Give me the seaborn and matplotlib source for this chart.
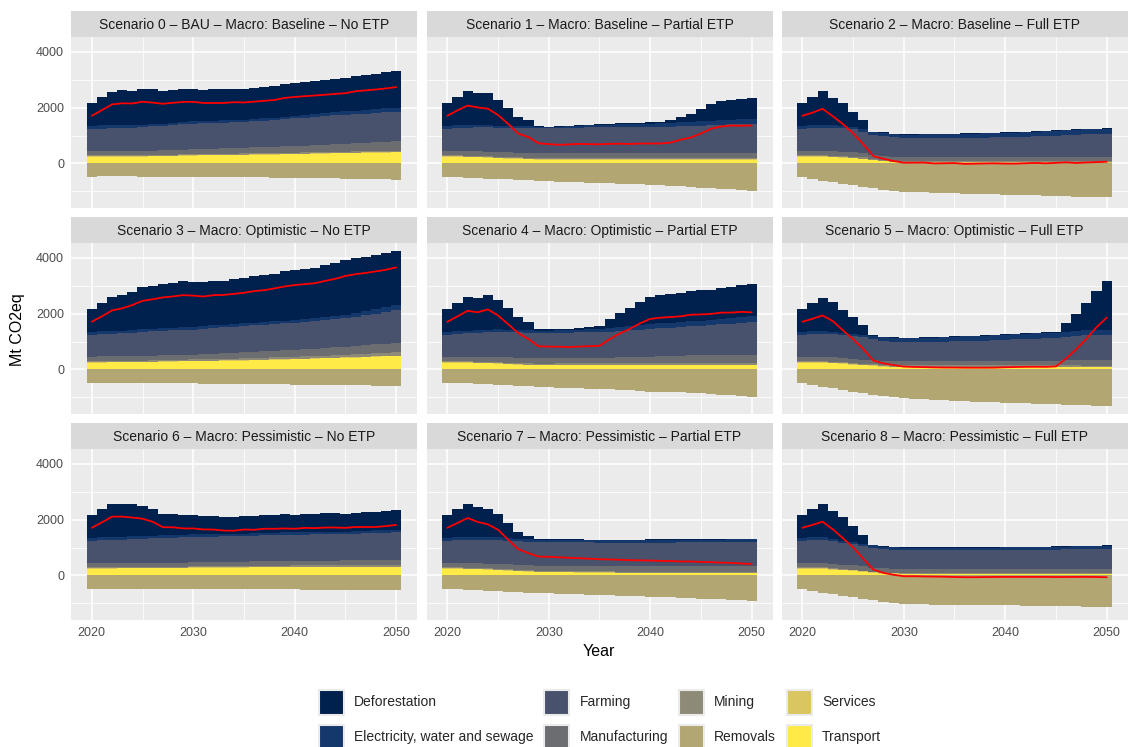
import matplotlib
matplotlib.use("Agg")
import matplotlib.pyplot as plt
import seaborn as sns
import pandas as pd
from matplotlib.patches import Patch
from matplotlib.ticker import FixedLocator

# ---------------------------------------------------------------- data
years = list(range(2020, 2051))

categories = ["Deforestation", "Electricity, water and sewage", "Farming",
              "Manufacturing", "Mining", "Removals", "Services", "Transport"]
cat_colors = ["#00204D", "#14386C", "#48526C", "#6C6D71",
              "#8D8A78", "#B2A672", "#D9C660", "#FFEA46"]

scenario_titles = [
    "Scenario 0 \u2013 BAU \u2013 Macro: Baseline \u2013 No ETP",
    "Scenario 1 \u2013 Macro: Baseline \u2013 Partial ETP",
    "Scenario 2 \u2013 Macro: Baseline \u2013 Full ETP",
    "Scenario 3 \u2013 Macro: Optimistic \u2013 No ETP",
    "Scenario 4 \u2013 Macro: Optimistic \u2013 Partial ETP",
    "Scenario 5 \u2013 Macro: Optimistic \u2013 Full ETP",
    "Scenario 6 \u2013 Macro: Pessimistic \u2013 No ETP",
    "Scenario 7 \u2013 Macro: Pessimistic \u2013 Partial ETP",
    "Scenario 8 \u2013 Macro: Pessimistic \u2013 Full ETP",
]

services_all = [15, 15, 15, 15, 15, 15, 15, 15, 15, 15,
                15, 15, 15, 15, 15, 15, 15, 15, 15, 15,
                15, 15, 15, 15, 15, 15, 15, 15, 15, 15, 15]

# Scenario 0
deforestation_s0 = [830, 1010, 1210, 1240, 1230, 1290, 1240, 1180, 1190, 1200,
                    1180, 1130, 1120, 1110, 1130, 1110, 1120, 1130, 1140, 1190,
                    1200, 1200, 1200, 1200, 1200, 1200, 1250, 1260, 1270, 1290, 1320]
electricity_s0 = [110, 110, 108, 105, 98, 90, 85, 80, 78, 76,
                  75, 76, 77, 78, 79, 80, 81, 82, 83, 84,
                  85, 90, 95, 100, 110, 119, 124, 129, 134, 139, 143]
farming_s0 = [785, 795, 805, 820, 835, 850, 865, 880, 900, 915,
              930, 930, 930, 930, 930, 930, 940, 950, 960, 975,
              990, 1000, 1010, 1020, 1030, 1035, 1040, 1045, 1050, 1055, 1060]
manufacturing_s0 = [165, 163, 160, 158, 156, 155, 157, 160, 162, 165,
                    167, 174, 181, 188, 195, 202, 209, 216, 223, 230,
                    238, 248, 258, 268, 277, 286, 295, 305, 315, 325, 333]
mining_s0 = [36, 36, 36, 35, 35, 35, 35, 36, 37, 37,
             38, 38, 38, 39, 39, 40, 40, 41, 41, 42,
             42, 43, 43, 44, 44, 45, 45, 46, 47, 47, 48]
transport_s0 = [245, 245, 245, 247, 248, 250, 256, 262, 268, 275,
                283, 287, 292, 296, 300, 305, 310, 315, 320, 325,
                330, 337, 344, 351, 358, 365, 372, 379, 386, 393, 400]
removals_s0 = [-476, -460, -460, -462, -465, -470, -470, -472, -474, -476,
               -478, -480, -483, -486, -490, -494, -498, -502, -506, -510,
               -515, -520, -526, -532, -538, -544, -550, -557, -564, -572, -580]

# Scenario 1
deforestation_s1 = [830, 1010, 1210, 1140, 1140, 930, 640, 320, 210, 20,
                    15, 15, 15, 20, 20, 25, 30, 35, 40, 45,
                    50, 60, 95, 180, 275, 430, 590, 680, 720, 735, 755]
electricity_s1 = [110, 110, 95, 88, 80, 72, 70, 65, 60, 55,
                  48, 50, 55, 60, 65, 71, 80, 90, 100, 110,
                  119, 125, 135, 145, 155, 167, 167, 167, 167, 167, 167]
farming_s1 = [785, 800, 830, 850, 865, 881, 885, 890, 895, 900,
              905, 910, 915, 920, 925, 929, 929, 929, 929, 929,
              929, 935, 945, 955, 965, 976, 990, 1005, 1020, 1035, 1048]
manufacturing_s1 = [165, 167, 167, 167, 167, 167, 170, 172, 175, 177,
                    179, 183, 187, 190, 194, 198, 200, 202, 202, 202,
                    202, 202, 202, 202, 202, 202, 202, 202, 202, 202, 202]
mining_s1 = [36, 36, 36, 36, 36, 36, 36, 36, 36, 36,
             36, 36, 36, 36, 36, 36, 36, 36, 36, 36,
             36, 36, 36, 36, 36, 36, 36, 36, 36, 36, 36]
transport_s1 = [245, 243, 235, 225, 210, 187, 175, 165, 152, 140,
                128, 128, 128, 128, 128, 128, 128, 128, 128, 128,
                128, 128, 128, 128, 128, 128, 128, 128, 128, 128, 128]
removals_s1 = [-476, -476, -512, -512, -548, -548, -571, -595, -595, -619,
               -631, -667, -667, -667, -690, -714, -714, -726, -750, -750,
               -762, -786, -809, -809, -845, -881, -881, -905, -928, -964, -988]

# Scenario 2
deforestation_s2 = [830, 1010, 1210, 990, 800, 550, 320, 15, 15, 15,
                    15, 15, 15, 15, 15, 15, 15, 15, 15, 15,
                    20, 20, 20, 20, 20, 20, 20, 20, 20, 20, 20]
electricity_s2 = [110, 110, 95, 90, 85, 80, 100, 107, 115, 125,
                  131, 131, 131, 133, 135, 137, 140, 145, 150, 152,
                  155, 158, 160, 163, 166, 168, 170, 172, 175, 177, 179]
farming_s2 = [785, 800, 830, 850, 850, 830, 762, 720, 714, 690,
              679, 680, 682, 684, 686, 690, 692, 694, 696, 698,
              702, 710, 720, 730, 745, 762, 775, 785, 800, 810, 821]
manufacturing_s2 = [165, 165, 165, 160, 155, 150, 145, 143, 143, 143,
                    143, 143, 143, 143, 144, 144, 145, 145, 146, 146,
                    147, 147, 148, 148, 149, 149, 150, 150, 150, 150, 150]
mining_s2 = [36, 36, 36, 36, 37, 37, 38, 38, 39, 39,
             40, 40, 41, 41, 42, 42, 43, 43, 44, 44,
             45, 45, 46, 46, 47, 47, 48, 48, 49, 49, 50]
transport_s2 = [245, 245, 240, 223, 210, 195, 162, 107, 80, 48,
                30, 30, 30, 30, 30, 30, 30, 30, 30, 30,
                30, 30, 30, 30, 30, 30, 30, 30, 30, 30, 30]
removals_s2 = [-476, -559, -631, -667, -738, -774, -845, -881, -952, -988,
               -1024, -1024, -1024, -1059, -1059, -1059, -1095, -1095, -1095, -1095,
               -1119, -1131, -1131, -1131, -1167, -1167, -1167, -1202, -1202, -1202, -1202]

# Scenario 3
deforestation_s3 = [830, 1010, 1210, 1270, 1370, 1500, 1540, 1590, 1610, 1640,
                    1610, 1560, 1590, 1580, 1600, 1620, 1660, 1670, 1710, 1760,
                    1790, 1790, 1790, 1840, 1880, 1950, 1950, 1930, 1920, 1910, 1930]
electricity_s3 = [110, 108, 103, 98, 94, 92, 95, 98, 101, 104,
                  107, 105, 103, 101, 99, 97, 99, 101, 103, 105,
                  107, 112, 117, 122, 127, 131, 145, 160, 175, 190, 203]
farming_s3 = [785, 795, 808, 822, 840, 860, 868, 875, 882, 890,
              896, 903, 910, 917, 924, 931, 938, 945, 952, 960,
              967, 977, 987, 997, 1006, 1015, 1045, 1075, 1105, 1140, 1170]
manufacturing_s3 = [165, 167, 167, 170, 172, 175, 175, 176, 177, 178,
                    179, 190, 200, 210, 220, 230, 235, 240, 245, 248,
                    250, 258, 266, 275, 285, 295, 303, 310, 318, 326, 334]
mining_s3 = [36, 36, 36, 38, 40, 42, 44, 46, 48, 48,
             48, 50, 52, 55, 58, 60, 62, 65, 68, 71,
             74, 78, 82, 86, 90, 94, 99, 104, 108, 113, 119]
transport_s3 = [245, 250, 252, 254, 257, 260, 267, 274, 281, 288,
                295, 300, 305, 309, 314, 319, 328, 338, 348, 357,
                367, 377, 387, 396, 405, 415, 429, 443, 457, 471, 486]
removals_s3 = [-476, -474, -472, -474, -478, -482, -486, -490, -494, -498,
               -502, -506, -510, -514, -518, -522, -526, -530, -534, -538,
               -542, -546, -550, -554, -558, -562, -568, -574, -580, -588, -597]

# Scenario 4
deforestation_s4 = [830, 1010, 1210, 1150, 1260, 1040, 760, 470, 290, 50,
                    60, 60, 50, 70, 80, 85, 310, 500, 650, 830,
                    970, 1000, 1010, 1030, 1080, 1090, 1090, 1130, 1130, 1160, 1150]
electricity_s4 = [110, 108, 95, 90, 86, 84, 84, 84, 84, 84,
                  84, 90, 96, 102, 110, 120, 130, 140, 150, 165,
                  180, 180, 180, 180, 180, 180, 187, 194, 201, 208, 216]
farming_s4 = [785, 810, 835, 860, 885, 910, 908, 905, 902, 900,
              898, 903, 908, 913, 918, 922, 935, 950, 965, 980,
              994, 1006, 1018, 1030, 1042, 1054, 1073, 1092, 1111, 1130, 1150]
manufacturing_s4 = [165, 167, 170, 175, 180, 185, 190, 195, 198, 200,
                    200, 200, 200, 200, 200, 200, 205, 212, 218, 224,
                    230, 240, 250, 258, 265, 272, 276, 280, 284, 286, 288]
mining_s4 = [36, 36, 38, 40, 42, 44, 46, 48, 48, 48,
             48, 50, 50, 52, 52, 54, 56, 58, 60, 62,
             64, 66, 68, 70, 72, 74, 76, 78, 80, 82, 84]
transport_s4 = [245, 243, 240, 230, 215, 205, 185, 165, 155, 150,
                150, 150, 150, 150, 150, 150, 150, 150, 150, 150,
                150, 150, 150, 150, 150, 150, 150, 150, 150, 150, 150]
removals_s4 = [-476, -485, -500, -510, -530, -545, -565, -580, -600, -615,
               -635, -650, -665, -680, -690, -700, -715, -735, -750, -770,
               -790, -800, -810, -825, -840, -860, -875, -900, -930, -965, -1005]

# Scenario 5
deforestation_s5 = [830, 1010, 1200, 1050, 830, 620, 350, 40, 20, 20,
                    20, 20, 20, 20, 20, 20, 20, 20, 20, 20,
                    20, 20, 20, 20, 20, 30, 310, 610, 970, 1400, 1760]
electricity_s5 = [110, 108, 100, 95, 85, 72, 80, 96, 131, 131,
                  131, 135, 140, 145, 150, 160, 165, 170, 175, 180,
                  185, 190, 195, 200, 200, 200, 185, 180, 180, 180, 180]
farming_s5 = [785, 800, 820, 830, 825, 815, 803, 755, 719, 700,
              683, 686, 690, 695, 700, 707, 715, 722, 730, 736,
              760, 770, 780, 790, 800, 810, 830, 880, 900, 900, 900]
manufacturing_s5 = [165, 163, 160, 155, 150, 145, 143, 143, 143, 143,
                    144, 144, 145, 145, 146, 146, 147, 147, 148, 149,
                    150, 152, 154, 156, 158, 160, 175, 185, 195, 200, 204]
mining_s5 = [36, 37, 38, 40, 42, 45, 48, 52, 55, 58,
             60, 60, 60, 60, 60, 60, 60, 60, 60, 60,
             60, 60, 60, 60, 60, 60, 55, 50, 45, 40, 36]
transport_s5 = [245, 245, 240, 225, 200, 177, 150, 129, 95, 85,
                81, 81, 81, 81, 81, 81, 81, 81, 81, 81,
                81, 81, 81, 81, 81, 81, 81, 81, 81, 81, 81]
removals_s5 = [-476, -560, -635, -671, -743, -800, -851, -910, -958, -994,
               -1030, -1050, -1066, -1085, -1102, -1120, -1138, -1150, -1165, -1174,
               -1190, -1200, -1210, -1225, -1240, -1246, -1260, -1275, -1285, -1300, -1318]

# Scenario 6
deforestation_s6 = [830, 1010, 1200, 1190, 1140, 1090, 970, 770, 760, 710,
                    700, 660, 650, 610, 600, 640, 620, 650, 640, 640,
                    620, 650, 640, 660, 660, 650, 670, 660, 650, 670, 700]
electricity_s6 = [110, 108, 105, 102, 100, 96, 96, 96, 96, 96,
                  96, 95, 93, 91, 88, 84, 86, 88, 90, 93,
                  96, 94, 92, 90, 87, 84, 86, 88, 90, 93, 96]
farming_s6 = [785, 800, 815, 830, 850, 864, 875, 885, 895, 905,
              912, 915, 917, 920, 922, 924, 926, 929, 931, 934,
              936, 938, 941, 943, 946, 948, 957, 967, 977, 986, 996]
manufacturing_s6 = [165, 163, 160, 155, 150, 146, 145, 145, 144, 144,
                    144, 146, 148, 150, 152, 155, 158, 160, 163, 165,
                    168, 170, 173, 175, 178, 180, 182, 185, 187, 190, 192]
mining_s6 = [36, 36, 36, 36, 36, 36, 36, 36, 36, 36,
             36, 37, 38, 39, 40, 41, 42, 43, 44, 45,
             46, 46, 46, 47, 47, 47, 47, 47, 48, 48, 48]
transport_s6 = [245, 248, 250, 253, 256, 258, 261, 264, 267, 270,
                273, 275, 278, 280, 283, 285, 287, 290, 292, 295,
                297, 297, 297, 297, 297, 297, 297, 297, 297, 297, 297]
removals_s6 = [-476, -476, -470, -470, -470, -470, -472, -480, -485, -488,
               -490, -492, -492, -494, -494, -496, -496, -498, -500, -500,
               -502, -504, -506, -508, -510, -512, -516, -520, -524, -528, -530]

# Scenario 7
deforestation_s7 = [830, 1010, 1200, 1070, 1010, 830, 520, 220, 120, 20,
                    20, 20, 20, 20, 20, 20, 20, 20, 20, 20,
                    20, 20, 20, 20, 30, 30, 30, 30, 30, 30, 30]
electricity_s7 = [110, 108, 105, 105, 106, 108, 100, 90, 80, 75,
                  72, 74, 76, 78, 80, 82, 84, 86, 88, 90,
                  96, 96, 96, 96, 96, 96, 96, 96, 96, 96, 96]
farming_s7 = [785, 800, 820, 835, 845, 852, 852, 852, 852, 858,
              864, 860, 855, 850, 845, 840, 840, 840, 840, 840,
              840, 842, 845, 848, 850, 852, 855, 857, 860, 862, 864]
manufacturing_s7 = [165, 167, 170, 173, 177, 180, 180, 180, 180, 180,
                    180, 182, 185, 187, 190, 192, 195, 197, 200, 202,
                    204, 204, 204, 204, 204, 204, 204, 204, 204, 204, 204]
mining_s7 = [36, 36, 36, 36, 36, 36, 36, 36, 36, 36,
             36, 36, 36, 36, 36, 36, 36, 36, 36, 36,
             36, 36, 36, 36, 36, 36, 36, 36, 36, 36, 36]
transport_s7 = [245, 240, 230, 215, 200, 189, 170, 150, 129, 122,
                117, 113, 109, 105, 101, 97, 93, 89, 85, 83,
                81, 81, 81, 81, 81, 81, 81, 81, 81, 81, 81]
removals_s7 = [-476, -495, -515, -530, -555, -570, -590, -600, -612, -628,
               -636, -650, -662, -672, -684, -700, -708, -720, -735, -744,
               -756, -770, -780, -798, -810, -828, -840, -858, -870, -895, -915]

# Scenario 8
deforestation_s8 = [830, 1010, 1200, 1020, 830, 600, 320, 15, 15, 15,
                    15, 15, 15, 15, 15, 15, 15, 15, 15, 15,
                    15, 15, 15, 15, 15, 15, 15, 15, 15, 15, 15]
electricity_s8 = [110, 108, 100, 90, 75, 60, 80, 105, 96, 84,
                  84, 84, 84, 84, 84, 84, 84, 84, 86, 88,
                  90, 92, 94, 96, 98, 100, 104, 108, 112, 116, 120]
farming_s8 = [785, 800, 815, 800, 785, 768, 730, 696, 684, 676,
              672, 672, 672, 672, 672, 672, 672, 674, 676, 678,
              680, 683, 686, 689, 692, 695, 698, 701, 704, 706, 708]
manufacturing_s8 = [165, 163, 160, 157, 153, 150, 148, 146, 145, 144,
                    144, 144, 144, 144, 144, 144, 144, 144, 144, 144,
                    144, 144, 144, 144, 144, 144, 144, 144, 144, 144, 144]
mining_s8 = [36, 36, 36, 35, 34, 33, 32, 31, 30, 30,
             30, 30, 30, 30, 30, 30, 30, 30, 30, 30,
             30, 30, 30, 30, 30, 30, 30, 30, 30, 30, 30]
transport_s8 = [245, 245, 240, 213, 190, 165, 129, 93, 69, 57,
                45, 45, 45, 45, 45, 45, 45, 45, 45, 45,
                45, 45, 45, 45, 45, 45, 45, 45, 45, 45, 45]
removals_s8 = [-476, -564, -636, -672, -744, -780, -852, -888, -960, -996,
               -1032, -1032, -1040, -1045, -1050, -1060, -1065, -1068, -1068, -1068,
               -1070, -1075, -1080, -1085, -1090, -1100, -1105, -1110, -1115, -1125, -1140]

# ---------------------------------------------------------------- table
g = globals()
rows = []
for s in range(9):
    per_cat = {
        "Deforestation": g[f"deforestation_s{s}"],
        "Electricity, water and sewage": g[f"electricity_s{s}"],
        "Farming": g[f"farming_s{s}"],
        "Manufacturing": g[f"manufacturing_s{s}"],
        "Mining": g[f"mining_s{s}"],
        "Removals": g[f"removals_s{s}"],
        "Services": services_all,
        "Transport": g[f"transport_s{s}"],
    }
    for cat, vals in per_cat.items():
        assert len(vals) == len(years), (s, cat, len(vals))
        for yr, v in zip(years, vals):
            rows.append((s, cat, yr, v))
df = pd.DataFrame(rows, columns=["scenario", "category", "year", "value"])
net = df.groupby(["scenario", "year"], as_index=False)["value"].sum()

palette = dict(zip(categories, cat_colors))
pos_order = [c for c in categories if c != "Removals"]

# shared scales (ggplot-like 5% expansion)
pos_max = df[df.value > 0].groupby(["scenario", "year"])["value"].sum().max()
neg_min = df[df.category == "Removals"].groupby(["scenario", "year"])["value"].sum().min()
span = pos_max - neg_min
ylim = (neg_min - 0.05 * span, pos_max + 0.05 * span)
x_lo, x_hi = min(years) - 0.5, max(years) + 0.5
xpad = 0.05 * (x_hi - x_lo)
xlim = (x_lo - xpad, x_hi + xpad)

# ---------------------------------------------------------------- figure
sns.set_theme(style="darkgrid")
plt.rcParams["font.family"] = ["Liberation Sans", "DejaVu Sans"]

W, H = 1129, 747
fig = plt.figure(figsize=(W / 100, H / 100), dpi=100)

col_left = [71, 426.5, 781.5]
panel_w = 346
row_top = [37, 243, 449]
panel_h = 171
strip_h = 26

tick_col = "#4D4D4D"
for s in range(9):
    r, c = divmod(s, 3)
    L, T = col_left[c], row_top[r]
    ax = fig.add_axes([L / W, 1 - (T + panel_h) / H, panel_w / W, panel_h / H])
    sax = fig.add_axes([L / W, 1 - T / H, panel_w / W, strip_h / H])
    sax.set_facecolor("#D9D9D9")
    sax.set_xticks([]); sax.set_yticks([])
    for sp in sax.spines.values():
        sp.set_visible(False)
    sax.text(0.5, 0.47, scenario_titles[s], ha="center", va="center",
             fontsize=10, color="#1A1A1A", transform=sax.transAxes)

    sub = df[(df.scenario == s) & (df.category != "Removals")]
    sns.histplot(data=sub, x="year", weights="value", hue="category",
                 hue_order=pos_order, palette=palette, multiple="stack",
                 discrete=True, shrink=1, linewidth=0, edgecolor="none",
                 alpha=1, legend=False, ax=ax)
    rem = df[(df.scenario == s) & (df.category == "Removals")]
    sns.histplot(data=rem, x="year", weights="value", discrete=True, shrink=1,
                 color=palette["Removals"], linewidth=0, edgecolor="none",
                 alpha=1, legend=False, ax=ax)
    sns.lineplot(data=net[net.scenario == s], x="year", y="value",
                 color="#FF0000", linewidth=1.3, ax=ax)

    ax.set_xlim(xlim)
    ax.set_ylim(ylim)
    ax.set_facecolor("#EBEBEB")
    for sp in ax.spines.values():
        sp.set_visible(False)
    ax.xaxis.set_major_locator(FixedLocator([2020, 2030, 2040, 2050]))
    ax.xaxis.set_minor_locator(FixedLocator([2025, 2035, 2045]))
    ax.yaxis.set_major_locator(FixedLocator([0, 2000, 4000]))
    ax.yaxis.set_minor_locator(FixedLocator([-1000, 1000, 3000]))
    ax.grid(which="major", color="white", linewidth=1.1)
    ax.grid(which="minor", color="white", linewidth=0.55)
    ax.set_axisbelow(True)
    ax.set_xlabel("")
    ax.set_ylabel("")
    ax.tick_params(which="minor", length=0)
    ax.tick_params(which="major", length=3, width=0.8, color="#333333",
                   labelsize=9, labelcolor=tick_col, pad=2)
    if c != 0:
        ax.tick_params(axis="y", which="major", length=0, labelleft=False)
    if r != 2:
        ax.tick_params(axis="x", which="major", length=0, labelbottom=False)

fig.text(599 / W, 1 - 652 / H, "Year", ha="center", va="center",
         fontsize=11.5, color="black")
fig.text(18 / W, 1 - 330 / H, "Mt CO2eq", ha="center", va="center",
         rotation=90, fontsize=11.5, color="black")

handles = [Patch(facecolor=palette[cname], edgecolor="#EBEBEB", linewidth=1.5,
                 label=cname) for cname in categories]
fig.legend(handles=handles, loc="center", bbox_to_anchor=(600 / W, 1 - 719.5 / H),
           ncol=4, frameon=False, fontsize=10, handlelength=1.8,
           handleheight=2.39, handletextpad=0.72, columnspacing=0.8,
           labelspacing=0.72, borderpad=0)

fig.savefig("out.png", dpi=100, facecolor="white")
